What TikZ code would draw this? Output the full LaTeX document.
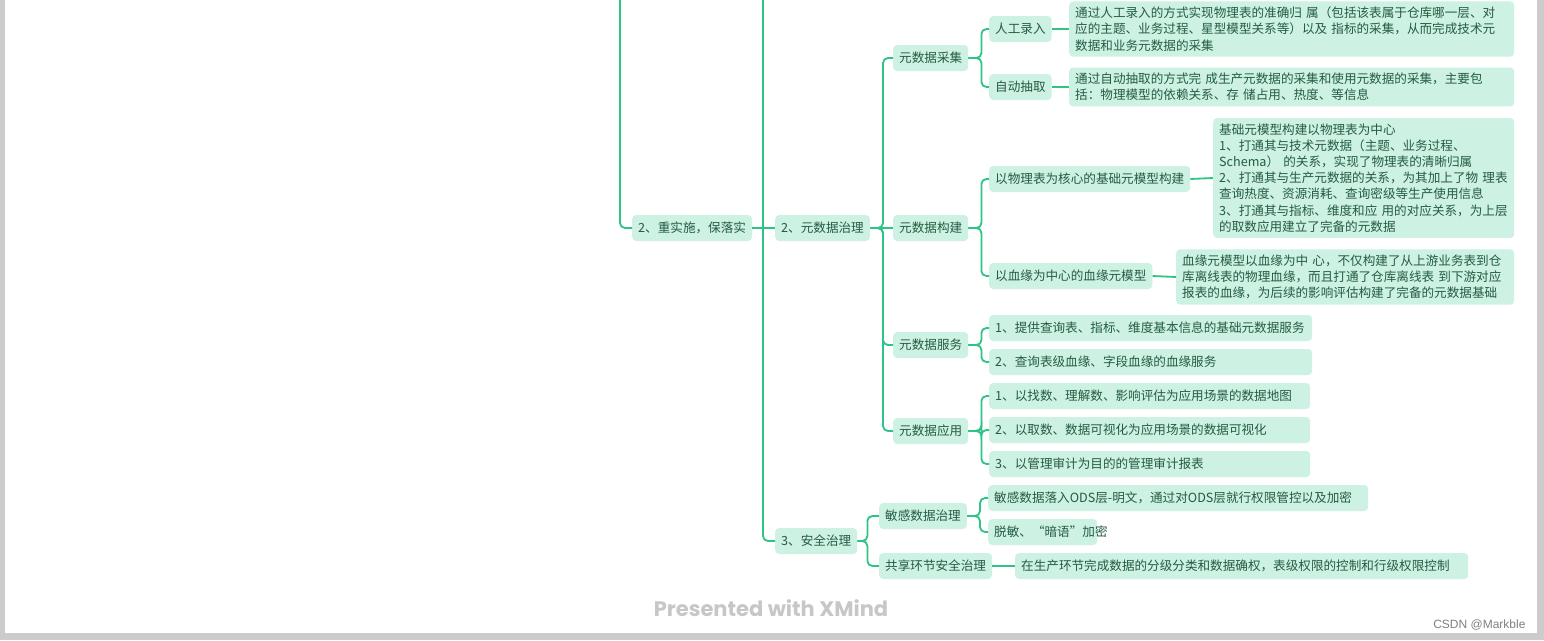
\documentclass[tikz,border=0pt]{standalone}
\usepackage{fontspec}
\usepackage{tikz}
\usetikzlibrary{positioning, calc}
\newfontfamily\cjk{Noto Sans CJK SC}
\newfontfamily\brandfont{Poppins}
\newfontfamily\markfont{Liberation Sans}
\definecolor{mindline}{RGB}{46,196,134}
\definecolor{mindfill}{RGB}{205,241,226}
\definecolor{mindtext}{RGB}{36,92,66}
\definecolor{pagegray}{RGB}{204,204,204}

\begin{document}
\begin{tikzpicture}[x=1pt, y=-1pt,
    topic/.style={fill=mindfill, rounded corners=4pt, text=mindtext, anchor=west,
        inner xsep=6pt, inner ysep=0pt, minimum height=26pt,
        font=\cjk\fontsize{12.6}{16.2}\selectfont},
    leaf/.style={topic, text width=#1, align=left},
    note/.style={leaf=#1, inner ysep=5.5pt},
    link/.style={draw=mindline, line width=1.8pt, rounded corners=5pt}]
    \useasboundingbox (0,0) rectangle (1544,640);
    % Page and its frame
    \fill[pagegray] (0,0) rectangle (1544,640);
    \fill[white] (5,0) rectangle (1537,633);

    % Branch 2
    \coordinate (top1) at (620,0);
    \coordinate (top2) at (763,0);
    \node[topic] (shishi) at (632,228) {2、重实施，保落实};
    \node[topic] (zhili) at (775,228) {2、元数据治理};
    \node[topic] (anquan) at (775,541) {3、安全治理};
    \draw[link] (top1) |- (shishi.west);
    \draw[link] (top2) |- (anquan.west);
    \draw[link] (shishi.east) -- (zhili.west);

    % Metadata governance
    \node[topic] (caiji) at (893,58) {元数据采集};
    \node[topic] (goujian) at (893,228) {元数据构建};
    \node[topic] (fuwu) at (893,345) {元数据服务};
    \node[topic] (yingyong) at (893,431) {元数据应用};
    \foreach \n in {caiji, fuwu, yingyong}
        \draw[link] (zhili.east) -- +(13,0) |- (\n.west);
    \draw[link] (zhili.east) -- (goujian.west);

    % Collection
    \node[topic] (rengong) at (989,29) {人工录入};
    \node[topic] (zidong) at (989,87) {自动抽取};
    \node[note=433pt] (rengongtxt) at (1069,29) {通过人工录入的方式实现物理表的准确归 属（包括该表属于仓库哪一层、对\\应的主题、业务过程、星型模型关系等）以及 指标的采集，从而完成技术元\\数据和业务元数据的采集};
    \node[note=433pt] (zidongtxt) at (1069,87) {通过自动抽取的方式完 成生产元数据的采集和使用元数据的采集，主要包\\括：物理模型的依赖关系、存 储占用、热度、等信息};
    \foreach \n in {rengong, zidong}
        \draw[link] (caiji.east) -- +(13,0) |- (\n.west);
    \draw[link] (rengong.east) -- (rengongtxt.west);
    \draw[link] (zidong.east) -- (zidongtxt.west);

    % Construction
    \node[topic] (wuli) at (989,179) {以物理表为核心的基础元模型构建};
    \node[topic] (xueyuan) at (989,276) {以血缘为中心的血缘元模型};
    \node[note=289pt] (wulitxt) at (1213,178) {基础元模型构建以物理表为中心\\1、打通其与技术元数据（主题、业务过程、\\Schema） 的关系，实现了物理表的清晰归属\\2、打通其与生产元数据的关系，为其加上了物 理表\\查询热度、资源消耗、查询密级等生产使用信息\\3、打通其与指标、维度和应 用的对应关系，为上层\\的取数应用建立了完备的元数据};
    \node[note=326pt] (xueyuantxt) at (1176,277) {血缘元模型以血缘为中 心，不仅构建了从上游业务表到仓\\库离线表的物理血缘，而且打通了仓库离线表 到下游对应\\报表的血缘，为后续的影响评估构建了完备的元数据基础};
    \foreach \n in {wuli, xueyuan}
        \draw[link] (goujian.east) -- +(13,0) |- (\n.west);
    \draw[link] (wuli.east) -- (wulitxt.west);
    \draw[link] (xueyuan.east) -- (xueyuantxt.west);

    % Service and application
    \foreach \i/\y/\txt in {1/328/{1、提供查询表、指标、维度基本信息的基础元数据服务},
                            2/362/{2、查询表级血缘、字段血缘的血缘服务}} {
        \node[leaf=311pt] (fw\i) at (989,\y) {\txt};
        \draw[link] (fuwu.east) -- +(13,0) |- (fw\i.west);
    }
    \foreach \i/\y/\txt in {1/396/{1、以找数、理解数、影响评估为应用场景的数据地图},
                            2/430/{2、以取数、数据可视化为应用场景的数据可视化},
                            3/464/{3、以管理审计为目的的管理审计报表}} {
        \node[leaf=309pt] (yy\i) at (989,\y) {\txt};
        \draw[link] (yingyong.east) -- +(13,0) |- (yy\i.west);
    }

    % Security governance
    \node[topic] (mingan) at (879,516) {敏感数据治理};
    \node[topic] (gongxiang) at (879,566) {共享环节安全治理};
    \foreach \n in {mingan, gongxiang}
        \draw[link] (anquan.east) -- +(10,0) |- (\n.west);
    \node[leaf=368pt] (mingan1) at (988,498) {敏感数据落入ODS层-明文，通过对ODS层就行权限管控以及加密};
    \node[leaf=97pt] (mingan2) at (988,532) {脱敏、“暗语”加密};
    \node[leaf=441pt] (gongxiang1) at (1015,566) {在生产环节完成数据的分级分类和数据确权，表级权限的控制和行级权限控制};
    \foreach \n in {mingan1, mingan2}
        \draw[link] (mingan.east) -- +(13,0) |- (\n.west);
    \draw[link] (gongxiang.east) -- (gongxiang1.west);

    % Footer
    \node[font=\brandfont\bfseries\fontsize{21}{21}\selectfont, text=black!22] (brand) at (771,608) {Presented with XMind};
    \node[font=\markfont\fontsize{12}{12}\selectfont, text=black!50, anchor=east] (csdn) at (1529,625) {CSDN @Markble};
\end{tikzpicture}
\end{document}
